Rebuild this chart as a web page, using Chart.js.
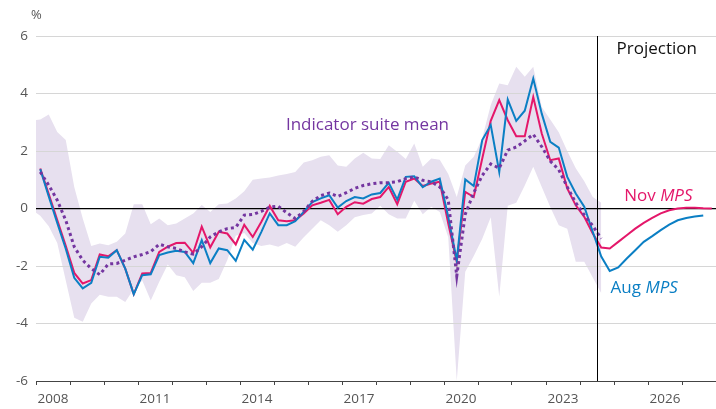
<!DOCTYPE html>
<html>
<head>
<meta charset="utf-8">
<script src="https://cdn.jsdelivr.net/npm/chart.js@4.4.1/dist/chart.umd.min.js"></script>
<style>
  html, body { margin: 0; padding: 0; background: #fff; }
  #wrap { width: 716px; height: 409px; }
</style>
</head>
<body>
<div id="wrap"><canvas id="myChart" width="716" height="409"></canvas></div>
<script>
/** Data start */

// quarterly series, first value = 2008 Q1
const seriesStart = 2008;
// the range band starts one quarter earlier (2007 Q4)
const bandStart = 2007.75;

const suiteMean = [
  1.27, 0.81, 0.29, -0.41, -1.33, -1.8, -2.09, -2.3, -1.93, -1.91,
  -1.8, -1.68, -1.6, -1.5, -1.24, -1.33, -1.39, -1.51, -1.59, -1.33,
  -0.99, -0.81, -0.7, -0.66, -0.23, -0.21, -0.1, 0.05, 0.08, -0.15,
  -0.35, -0.1, 0.25, 0.45, 0.54, 0.42, 0.55, 0.7, 0.8, 0.86,
  0.9, 0.9, 0.93, 1.04, 1.1, 0.98, 0.93, 0.75, 0.3, -2.35,
  -0.2, 0.55, 1.15, 1.55, 1.4, 2.03, 2.14, 2.35, 2.58, 2.15,
  1.65, 1.35, 0.75, 0.2, -0.22, -0.6, -1.05
];

const bandHigh = [
  3.05,
  3.1, 3.27, 2.66, 2.38, 0.75, -0.35, -1.3, -1.22, -1.28, -1.16,
  -0.87, 0.15, 0.15, -0.55, -0.35, -0.58, -0.52, -0.35, -0.17, 0.12,
  -0.12, 0.15, 0.17, 0.35, 0.6, 1.0, 1.04, 1.08, 1.15, 1.2,
  1.27, 1.6, 1.68, 1.8, 1.85, 1.5, 1.45, 1.74, 1.94, 1.74,
  1.72, 2.2, 1.97, 1.72, 2.26, 1.45, 1.74, 1.7, 1.2, 0.4,
  1.5, 1.8, 2.45, 3.6, 4.35, 4.29, 4.93, 4.58, 4.93, 3.53,
  3.1, 2.65, 2.0, 1.4, 0.95, 0.4, 0.2
];

const bandLow = [
  -0.05,
  -0.25, -0.62, -1.2, -2.5, -3.8, -3.94, -3.3, -3.0, -3.07, -3.07,
  -3.25, -2.8, -2.5, -3.2, -2.55, -1.95, -2.32, -2.39, -2.87, -2.58,
  -2.58, -2.45, -1.8, -0.95, -0.85, -1.2, -1.3, -1.25, -1.33, -1.2,
  -1.33, -1.0, -0.7, -0.41, -0.58, -0.81, -0.58, -0.3, -0.23, -0.17,
  0.1, -0.2, -0.35, -0.35, 0.27, -0.2, 0.06, -0.12, -1.0, -6.0,
  -2.2, -1.65, -1.05, -0.3, -3.07, 0.1, 0.2, 0.8, 1.45, 0.75,
  0.05, -0.58, -0.7, -1.85, -1.85, -2.4, -2.95
];

const novMps = [
  1.39, 0.5, -0.4, -1.3, -2.24, -2.61, -2.49, -1.6, -1.66, -1.45,
  -2.09, -2.98, -2.26, -2.24, -1.51, -1.33, -1.2, -1.19, -1.54, -0.63,
  -1.35, -0.81, -0.87, -1.25, -0.57, -0.99, -0.47, 0.09, -0.41, -0.44,
  -0.41, -0.17, 0.11, 0.2, 0.3, -0.2, 0.06, 0.22, 0.17, 0.33,
  0.4, 0.75, 0.15, 0.93, 1.04, 0.78, 0.87, 0.93, -0.52, -1.86,
  0.58, 0.4, 1.74, 3.05, 3.77, 3.07, 2.51, 2.51, 3.88, 2.61,
  1.68, 1.74, 0.7, 0.11, -0.29, -0.87, -1.36, -1.39, -1.16, -0.93,
  -0.7, -0.5, -0.33, -0.17, -0.06, 0.0, 0.03, 0.03, 0.01, 0.0
];

const augMps = [
  1.37, 0.42, -0.5, -1.4, -2.41, -2.78, -2.59, -1.68, -1.71, -1.45,
  -2.09, -2.98, -2.32, -2.29, -1.62, -1.53, -1.47, -1.51, -1.9, -1.1,
  -1.9, -1.39, -1.45, -1.82, -1.09, -1.43, -0.82, -0.17, -0.58, -0.58,
  -0.44, -0.12, 0.22, 0.35, 0.46, 0.03, 0.26, 0.4, 0.35, 0.49,
  0.54, 0.89, 0.31, 1.1, 1.12, 0.74, 0.93, 1.04, -0.29, -1.8,
  1.01, 0.78, 2.38, 2.9, 1.27, 3.79, 3.05, 3.4, 4.52, 3.3,
  2.32, 2.12, 1.1, 0.52, 0.06, -0.81, -1.67, -2.17, -2.05, -1.74,
  -1.45, -1.16, -0.96, -0.75, -0.56, -0.41, -0.33, -0.28, -0.24
];

const projectionStart = 2024.5;
const yearLabels = [2008, 2011, 2014, 2017, 2020, 2023, 2026];
const yTicks = [-6, -4, -2, 0, 2, 4, 6];

/** Data end */

const pink = '#e4176a';
const blue = '#0b7fc4';
const purple = '#7436a0';
const lavender = '#e7e0ef';
const fontFamily = '"Open Sans", "Noto Sans", sans-serif';

function quarterPoints(values, start) {
  return values.map((v, i) => ({ x: start + 0.125 + i * 0.25, y: v }));
}

// text and projection line on top of the plot
const notes = {
  id: 'notes',
  afterDatasetsDraw(chart) {
    const ctx = chart.ctx;
    const x = chart.scales.x;
    const y = chart.scales.y;
    const area = chart.chartArea;
    const px = Math.round(x.getPixelForValue(projectionStart)) + 0.5;

    ctx.save();
    ctx.strokeStyle = '#000';
    ctx.lineWidth = 1;
    ctx.beginPath();
    ctx.moveTo(px, area.top);
    ctx.lineTo(px, area.bottom);
    ctx.stroke();

    ctx.textBaseline = 'middle';
    ctx.font = '17px ' + fontFamily;
    ctx.fillStyle = '#111';
    ctx.textAlign = 'center';
    ctx.fillText('Projection', (px + area.right) / 2, y.getPixelForValue(5.55));

    ctx.textAlign = 'left';
    ctx.fillStyle = purple;
    ctx.fillText('Indicator suite mean', x.getPixelForValue(2015.35), y.getPixelForValue(2.9));

    function mps(prefix, color, xv, yv) {
      let lx = x.getPixelForValue(xv);
      const ly = y.getPixelForValue(yv);
      ctx.fillStyle = color;
      ctx.font = '17px ' + fontFamily;
      ctx.fillText(prefix, lx, ly);
      lx += ctx.measureText(prefix).width;
      ctx.font = 'italic 17px ' + fontFamily;
      ctx.fillText('MPS', lx, ly);
    }
    mps('Nov ', pink, 2025.3, 0.44);
    mps('Aug ', blue, 2024.9, -2.78);

    ctx.font = '13px ' + fontFamily;
    ctx.fillStyle = '#555';
    ctx.textAlign = 'left';
    ctx.fillText('%', 31, 15);
    ctx.restore();
  }
};

const config = {
  type: 'line',
  data: {
    datasets: [
      {
        label: 'Indicator suite mean',
        data: quarterPoints(suiteMean, seriesStart),
        borderColor: purple,
        borderWidth: 3,
        borderDash: [3, 3.2],
        pointRadius: 0,
        fill: false
      },
      {
        label: 'Aug MPS',
        data: quarterPoints(augMps, seriesStart),
        borderColor: blue,
        borderWidth: 2,
        pointRadius: 0,
        fill: false
      },
      {
        label: 'Nov MPS',
        data: quarterPoints(novMps, seriesStart),
        borderColor: pink,
        borderWidth: 2,
        pointRadius: 0,
        fill: false
      },
      {
        label: 'Range high',
        data: quarterPoints(bandHigh, bandStart),
        borderWidth: 0,
        borderColor: 'rgba(0,0,0,0)',
        backgroundColor: lavender,
        pointRadius: 0,
        fill: '+1'
      },
      {
        label: 'Range low',
        data: quarterPoints(bandLow, bandStart),
        borderWidth: 0,
        borderColor: 'rgba(0,0,0,0)',
        pointRadius: 0,
        fill: false
      }
    ]
  },
  options: {
    responsive: false,
    animation: false,
    layout: { padding: { top: 36, right: 0, left: 0, bottom: 0 } },
    plugins: {
      legend: { display: false },
      tooltip: { enabled: false },
      // band goes under the grid lines
      filler: { drawTime: 'beforeDraw' }
    },
    elements: { line: { tension: 0 } },
    scales: {
      x: {
        type: 'linear',
        min: 2008,
        max: 2028,
        offset: false,
        afterFit(scale) {
          scale.height = 28;
          scale.paddingLeft = 0;
          scale.paddingRight = 0;
        },
        afterBuildTicks(scale) {
          const t = [];
          for (let yr = 2008; yr <= 2028; yr++) {
            t.push({ value: yr });
            if (yr < 2028) t.push({ value: yr + 0.5 });
          }
          scale.ticks = t;
        },
        ticks: {
          autoSkip: false,
          maxRotation: 0,
          padding: 6,
          color: '#555',
          font: { family: fontFamily, size: 13.5 },
          callback(value) {
            const yr = Math.floor(value);
            if (value - yr === 0.5 && yearLabels.includes(yr)) return String(yr);
            return '';
          }
        },
        grid: {
          drawOnChartArea: false,
          drawTicks: true,
          tickLength: 4,
          tickColor(c) {
            return (c.tick && Number.isInteger(c.tick.value)) ? '#444' : 'rgba(0,0,0,0)';
          }
        },
        border: { display: true, color: '#444', width: 1 }
      },
      y: {
        min: -6,
        max: 6,
        afterFit(scale) { scale.width = 36; },
        afterBuildTicks(scale) {
          scale.ticks = yTicks.map(v => ({ value: v }));
        },
        ticks: {
          padding: 8,
          color: '#555',
          font: { family: fontFamily, size: 13.5 }
        },
        grid: {
          drawTicks: false,
          color(c) {
            return (c.tick && c.tick.value === 0) ? '#000' : '#d6d6d6';
          },
          lineWidth(c) {
            return (c.tick && c.tick.value === 0) ? 1.2 : 1;
          }
        },
        border: { display: false }
      }
    }
  },
  plugins: [notes]
};

const myChart = new Chart(document.getElementById('myChart'), config);
</script>
</body>
</html>
